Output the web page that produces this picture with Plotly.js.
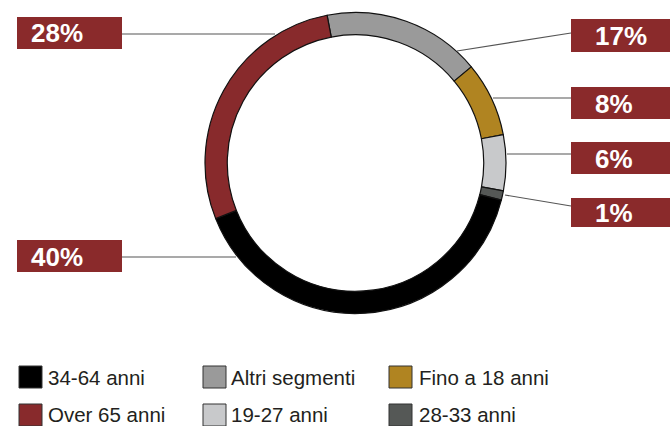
<!DOCTYPE html>
<html>
<head>
<meta charset="utf-8">
<script src="https://cdn.plot.ly/plotly-3.0.1.min.js"></script>
<style>
html,body{margin:0;padding:0;background:#fff;}
#chart{width:670px;height:426px;}
</style>
</head>
<body>
<div id="chart"></div>
<script>
// ---- data (clockwise from the top) ----
var categories = ["Altri segmenti", "Fino a 18 anni", "19-27 anni", "28-33 anni", "34-64 anni", "Over 65 anni"];
var shares = [17, 8, 6, 1, 40, 28];
var colors = ["#9a9a9a", "#b08421", "#c8c9cb", "#555856", "#000000", "#882a2c"];
// legend order (row by row)
var legendOrder = ["34-64 anni", "Altri segmenti", "Fino a 18 anni", "Over 65 anni", "19-27 anni", "28-33 anni"];

var W = 670, H = 426;
function px(x){ return x / W; }
function py(y){ return 1 - y / H; }

// ---- callout label layout (pixel positions of boxes and leader lines) ----
var callouts = {
  "Over 65 anni":   {box:[17,17,122,49],   text:[29,33.5],  line:[122,34,275,34]},
  "34-64 anni":     {box:[17,240,122,272], text:[29,256.5], line:[122,257,236,257]},
  "Altri segmenti": {box:[571,19,670,52],  text:[593,35.5], line:[571,33,457,51]},
  "Fino a 18 anni": {box:[571,87,670,119], text:[593,103.5],line:[571,98,493,98]},
  "19-27 anni":     {box:[571,142,670,174],text:[593,158.5],line:[571,154,507,154]},
  "28-33 anni":     {box:[571,198,670,227],text:[593,213],  line:[571,206,505,195]}
};

var shapes = [], annotations = [];
var boxColor = "#8a2a2b";

categories.forEach(function(cat, i){
  var c = callouts[cat];
  shapes.push({type:"line", xref:"paper", yref:"paper",
    x0:px(c.line[0]), y0:py(c.line[1]), x1:px(c.line[2]), y1:py(c.line[3]),
    line:{color:"#555555", width:1.2}});
  shapes.push({type:"rect", xref:"paper", yref:"paper",
    x0:px(c.box[0]), y0:py(c.box[1]), x1:px(c.box[2]), y1:py(c.box[3]),
    fillcolor:boxColor, line:{width:0}});
  annotations.push({xref:"paper", yref:"paper", x:px(c.text[0]), y:py(c.text[1]),
    xanchor:"left", yanchor:"middle", showarrow:false,
    text:"<b>" + shares[i] + "%</b>",
    font:{family:"Liberation Sans, Arial, sans-serif", size:26, color:"#ffffff"}});
});

// ---- legend (custom, 3 columns x 2 rows) ----
var colSquareX = [19, 203, 389];
var colTextX = [46, 229, 417];
var rowSquareY = [366, 404];
var rowTextY = [377, 414.5];
legendOrder.forEach(function(cat, k){
  var col = k % 3, row = Math.floor(k / 3);
  var idx = categories.indexOf(cat);
  shapes.push({type:"rect", xref:"paper", yref:"paper",
    x0:px(colSquareX[col]), x1:px(colSquareX[col] + 23),
    y0:py(rowSquareY[row]), y1:py(rowSquareY[row] + 22),
    fillcolor:colors[idx], line:{color:"#333333", width:1}});
  annotations.push({xref:"paper", yref:"paper", x:px(colTextX[col]), y:py(rowTextY[row]),
    xanchor:"left", yanchor:"middle", showarrow:false, text:cat,
    font:{family:"Liberation Sans, Arial, sans-serif", size:20.5, color:"#231f20"}});
});

var trace = {
  type:"pie",
  labels:categories,
  values:shares,
  sort:false,
  direction:"clockwise",
  rotation:-10.9,
  hole:0.852,
  textinfo:"none",
  hoverinfo:"label+percent",
  marker:{colors:colors, line:{color:"#111111", width:1.2}},
  domain:{x:[px(355.5-151), px(355.5+151)], y:[py(313.5), py(12.5)]},
  showlegend:false
};

var layout = {
  width:W, height:H,
  margin:{l:0, r:0, t:0, b:0},
  paper_bgcolor:"#ffffff",
  plot_bgcolor:"#ffffff",
  showlegend:false,
  shapes:shapes,
  annotations:annotations
};

Plotly.newPlot("chart", [trace], layout, {displayModeBar:false, staticPlot:true});
</script>
</body>
</html>
